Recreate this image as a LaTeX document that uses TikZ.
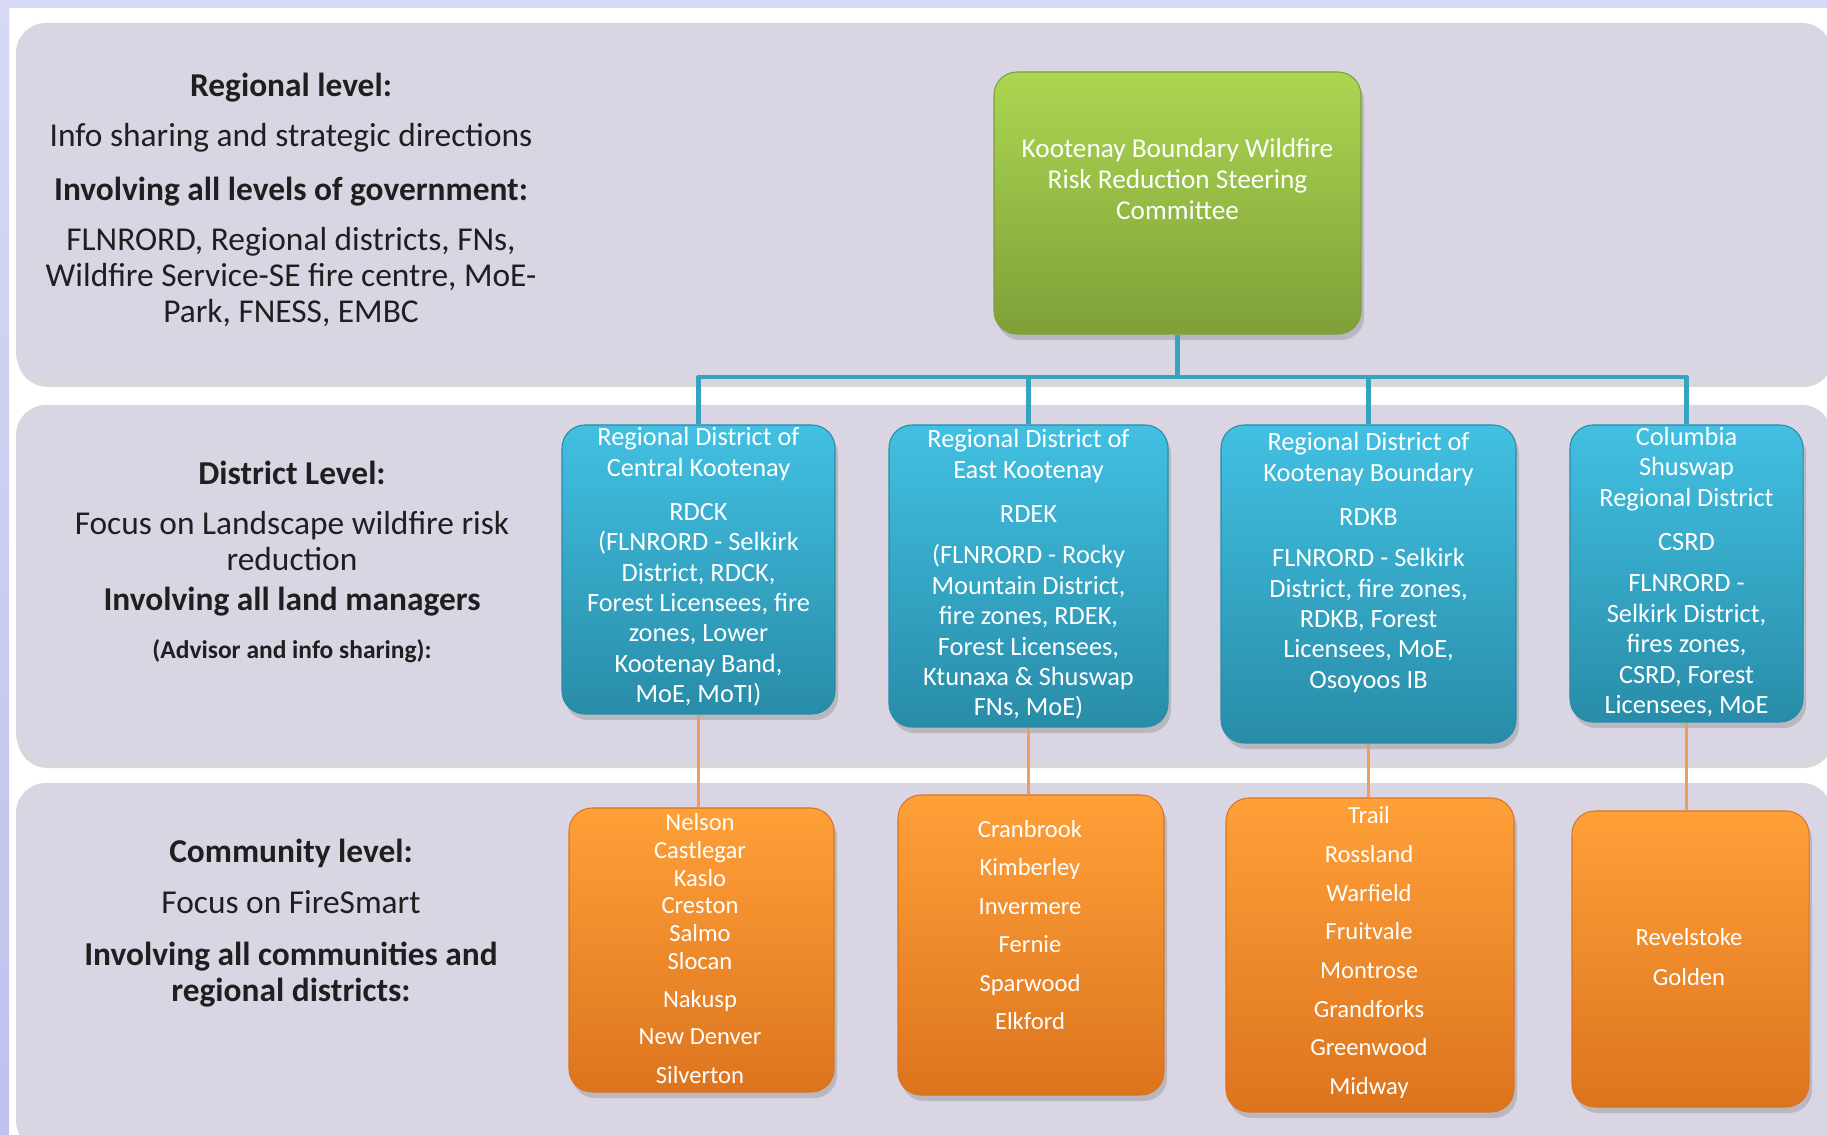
\documentclass[tikz,border=0pt]{standalone}
\usepackage{fontspec}
\setmainfont{Carlito}
\usetikzlibrary{shadows}

\definecolor{panelfill}{RGB}{217,213,227}
\definecolor{stripA}{RGB}{214,216,244}
\definecolor{stripB}{RGB}{190,194,236}
\definecolor{greentop}{RGB}{172,214,82}
\definecolor{greenbot}{RGB}{126,160,56}
\definecolor{bluetop}{RGB}{66,192,226}
\definecolor{bluebot}{RGB}{40,140,168}
\definecolor{orangetop}{RGB}{255,160,56}
\definecolor{orangebot}{RGB}{220,116,30}
\definecolor{linkblue}{RGB}{56,163,192}
\definecolor{linkorange}{RGB}{240,156,90}

\tikzset{
  panel/.style={fill=panelfill, rounded corners=6mm,
    drop shadow={shadow xshift=.3mm, shadow yshift=-1mm, opacity=.3}},
  boxsize/.style 2 args={minimum width=#1*0.2mm, minimum height=#2*0.2mm},
  unitbox/.style={rounded corners=4.6mm, inner sep=0pt, line width=.6pt,
    drop shadow={shadow xshift=.6mm, shadow yshift=-1.2mm, opacity=.35}},
  greenbox/.style={unitbox, top color=greentop, bottom color=greenbot, draw=greenbot},
  bluebox/.style={unitbox, top color=bluetop, bottom color=bluebot, draw=bluebot},
  orangebox/.style={unitbox, top color=orangetop, bottom color=orangebot, draw=orangebot},
  boxtext/.style={text=white, align=center, font=\fontsize{15}{17.3}\selectfont},
  citytext/.style={text=white, align=center, font=\fontsize{14}{15.9}\selectfont},
  leveltext/.style={text=black!88, align=center, font=\fontsize{19}{20.5}\selectfont},
  treelink/.style={draw=linkblue, line width=2.4pt},
  citylink/.style={draw=linkorange, line width=2.2pt}
}

\begin{document}
\begin{tikzpicture}[x=0.2mm, y=-0.2mm, line join=round]
\fill[white] (0,0) rectangle (1827,1135);
\useasboundingbox (0,0) rectangle (1827,1135);
\clip (0,0) rectangle (1827,1135);
% frame strips
\shade[top color=stripA, bottom color=stripB] (0,0) rectangle (9,1135);
\fill[stripA] (0,0) rectangle (1827,8);
% level panels
\fill[panel] (16,23) rectangle (1832,382);
\fill[panel] (16,405) rectangle (1832,763);
\fill[panel] (16,783) rectangle (1832,1150);

% level descriptions
\node[leveltext] (regional) at (291,200) {\textbf{Regional level:}\\[8pt]
  Info sharing and strategic directions\\[10pt]
  \textbf{Involving all levels of government:}\\[8pt]
  FLNRORD, Regional districts, FNs,\\
  Wildfire Service-SE fire centre, MoE-\\
  Park, FNESS, EMBC};
\node[leveltext] (district) at (292,562) {\textbf{District Level:}\\[8pt]
  Focus on Landscape wildfire risk\\
  reduction\\[2.3pt]
  \textbf{Involving all land  managers}\\[7pt]
  {\fontsize{14.5}{16}\selectfont\bfseries (Advisor and info  sharing):}};
\node[leveltext] (community) at (291,923.5) {\textbf{Community  level:}\\[8pt]
  Focus on FireSmart\\[9.5pt]
  \textbf{Involving all communities  and}\\
  \textbf{regional districts:}};

% steering committee
\node[greenbox, boxsize={367}{262}] (ksc) at (1177.5,203) {};
\node[boxtext, font=\fontsize{15.5}{17.6}\selectfont] (ksc-t) at (1177.5,179)
  {Kootenay  Boundary  Wildfire\\ Risk Reduction  Steering\\ Committee};

% regional districts
\node[bluebox, boxsize={273}{289}] (rdck) at (698.5,569.5) {};
\node[bluebox, boxsize={279}{302}] (rdek) at (1028.5,576) {};
\node[bluebox, boxsize={295}{318}] (rdkb) at (1368.5,584) {};
\node[bluebox, boxsize={233}{297}] (csrd) at (1686.5,573.5) {};

\node[boxtext] (rdck-t) at (698.5,567) {Regional District  of\\ Central  Kootenay\\[7.7pt]
  RDCK\\ (FLNRORD - Selkirk\\ District,  RDCK,\\ Forest Licensees, fire\\
  zones, Lower\\ Kootenay  Band,\\ MoE, MoTI)};
\node[boxtext] (rdek-t) at (1028.5,574.5) {Regional District  of\\ East Kootenay\\[7.7pt]
  RDEK\\[6.4pt] (FLNRORD - Rocky\\ Mountain District,\\ fire zones, RDEK,\\
  Forest Licensees,\\ Ktunaxa \& Shuswap\\ FNs,  MoE)};
\node[boxtext] (rdkb-t) at (1368.5,562.5) {Regional District  of\\ Kootenay  Boundary\\[7.7pt]
  RDKB\\[6.4pt] FLNRORD - Selkirk\\ District,  fire zones,\\ RDKB,  Forest\\
  Licensees, MoE,\\ Osoyoos IB};
\node[boxtext] (csrd-t) at (1686.5,572) {Columbia\\ Shuswap\\ Regional District\\[7.7pt]
  CSRD\\[6.4pt] FLNRORD -\\ Selkirk District,\\ fires zones,\\ CSRD, Forest\\
  Licensees, MoE};

% communities
\node[orangebox, boxsize={265}{284}] (crdck) at (701.5,950) {};
\node[orangebox, boxsize={266}{300}] (crdek) at (1031,945) {};
\node[orangebox, boxsize={288}{314}] (crdkb) at (1370,955) {};
\node[orangebox, boxsize={237}{296}] (ccsrd) at (1690.5,959) {};

\node[citytext] (crdck-t) at (700,948.5) {Nelson\\ Castlegar\\ Kaslo\\ Creston\\ Salmo\\
  Slocan\\[5.7pt] Nakusp\\[5.1pt] New Denver\\[6.3pt] Silverton};
\node[citytext, font=\fontsize{14}{21.9}\selectfont] (crdek-t) at (1030,925)
  {Cranbrook\\ Kimberley\\ Invermere\\ Fernie\\ Sparwood\\ Elkford};
\node[citytext, font=\fontsize{14}{22}\selectfont] (crdkb-t) at (1369,952.5)
  {Trail\\ Rossland\\ Warfield\\ Fruitvale\\ Montrose\\ Grandforks\\ Greenwood\\ Midway};
\node[citytext, font=\fontsize{14}{22.8}\selectfont] (ccsrd-t) at (1689,957)
  {Revelstoke\\ Golden};

% links
\coordinate (jn) at (1178,377);
\draw[treelink] (ksc.south) -- (ksc.south |- jn);
\draw[treelink] (rdck.north) |- (jn) -| (csrd.north);
\foreach \d in {rdek,rdkb} \draw[treelink] (\d.north) -- (\d.north |- jn);
\foreach \d/\c in {rdck/crdck,rdek/crdek,rdkb/crdkb,csrd/ccsrd}
  \draw[citylink] (\d.south) -- (\d.south |- \c.north);
\end{tikzpicture}
\end{document}
